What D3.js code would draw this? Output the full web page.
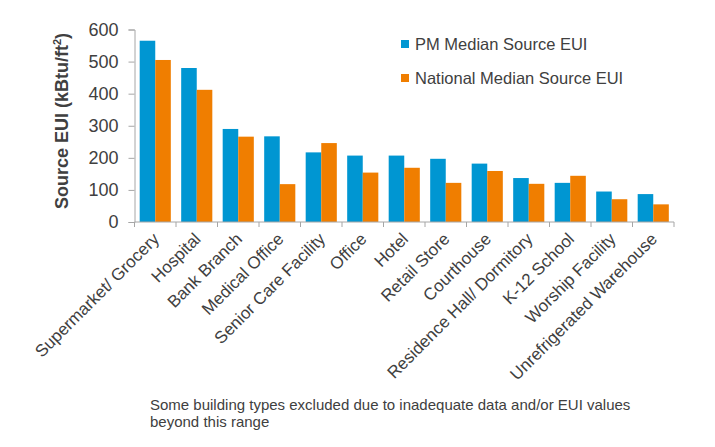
<!DOCTYPE html>
<html><head><meta charset="utf-8">
<script src="https://cdn.jsdelivr.net/npm/d3@7"></script>
<style>
body{margin:0;background:#fff;}
text{font-family:"Liberation Sans",Arial,sans-serif;}
</style></head>
<body><svg id="c" width="715" height="447"></svg>
<script>
const categories = ["Supermarket/ Grocery","Hospital","Bank Branch","Medical Office","Senior Care Facility","Office","Hotel","Retail Store","Courthouse","Residence Hall/ Dormitory","K-12 School","Worship Facility","Unrefrigerated Warehouse"];
const pmMedian = [565,480,290,267,217,207,207,197,182,137,122,95,87];
const nationalMedian = [505,412,266,118,246,154,169,122,159,119,144,71,55];
const seriesNames = ["PM Median Source EUI","National Median Source EUI"];
const yTicks = [0,100,200,300,400,500,600];
const colors = ["#0096D2","#F07E00"];

(function(){
const svg = d3.select("#c");
const left=134.5, right=674, plotTop=29.5, bottom=222;
const x = d3.scaleBand().domain(categories).range([left,right]).paddingInner(0).paddingOuter(0);
const x1 = d3.scaleBand().domain([0,1]).range([0,x.bandwidth()]).paddingInner(0).paddingOuter(0.333);
const y = d3.scaleLinear().domain([0,600]).range([bottom,plotTop]);

const grey="#404040", axisCol="#A6A6A6";
const series=[pmMedian,nationalMedian];
series.forEach((vals,si)=>{
  svg.append("g").selectAll("rect").data(categories).join("rect")
    .attr("x",d=>x(d)+x1(si)).attr("width",x1.bandwidth())
    .attr("y",(d,i)=>y(vals[i])).attr("height",(d,i)=>bottom-y(vals[i]))
    .attr("fill",colors[si]);
});
const ya = svg.append("g").attr("transform",`translate(${left},0)`)
  .call(d3.axisLeft(y).tickValues(yTicks).tickSize(6).tickPadding(10).tickFormat(d3.format("d")));
ya.select(".domain").attr("stroke",axisCol);
ya.selectAll(".tick line").attr("stroke",axisCol);
ya.selectAll("text").attr("font-size",18).attr("fill",grey).attr("font-family","Liberation Sans, Arial, sans-serif");
const xa = svg.append("g").attr("transform",`translate(0,${bottom})`)
  .call(d3.axisBottom(x).tickSize(0).tickFormat(""));
xa.select(".domain").attr("stroke",axisCol).attr("d",`M${left},0H${right}V5`);
svg.append("g").selectAll("line").data(categories).join("line")
  .attr("x1",d=>x(d)).attr("x2",d=>x(d)).attr("y1",bottom).attr("y2",bottom+5).attr("stroke",axisCol);
svg.append("g").selectAll("text").data(categories).join("text")
  .attr("transform",d=>`translate(${x(d)+x.bandwidth()/2+5},${bottom+18}) rotate(-45)`)
  .attr("text-anchor","end").attr("font-size",17).attr("fill",grey).text(d=>d);
const yt = svg.append("text").attr("transform",`translate(68,121) rotate(-90)`)
  .attr("text-anchor","middle").attr("font-size",18).attr("font-weight","bold").attr("fill",grey);
yt.append("tspan").text("Source EUI (kBtu/ft");
yt.append("tspan").attr("dy",-7).attr("font-size",11).text("2");
yt.append("tspan").attr("dy",7).text(")");
const lg = svg.append("g");
seriesNames.forEach((n,i)=>{
  lg.append("rect").attr("x",401).attr("y",40+i*34).attr("width",8).attr("height",8).attr("fill",colors[i]);
  lg.append("text").attr("x",415).attr("y",50+i*34).attr("font-size",16.5).attr("fill",grey).text(n);
});
const fn = svg.append("text").attr("x",150).attr("y",410).attr("font-size",15).attr("fill",grey);
fn.append("tspan").attr("x",150).text("Some building types excluded due to inadequate data and/or EUI values");
fn.append("tspan").attr("x",150).attr("dy",17).text("beyond this range");
})();
</script></body></html>
